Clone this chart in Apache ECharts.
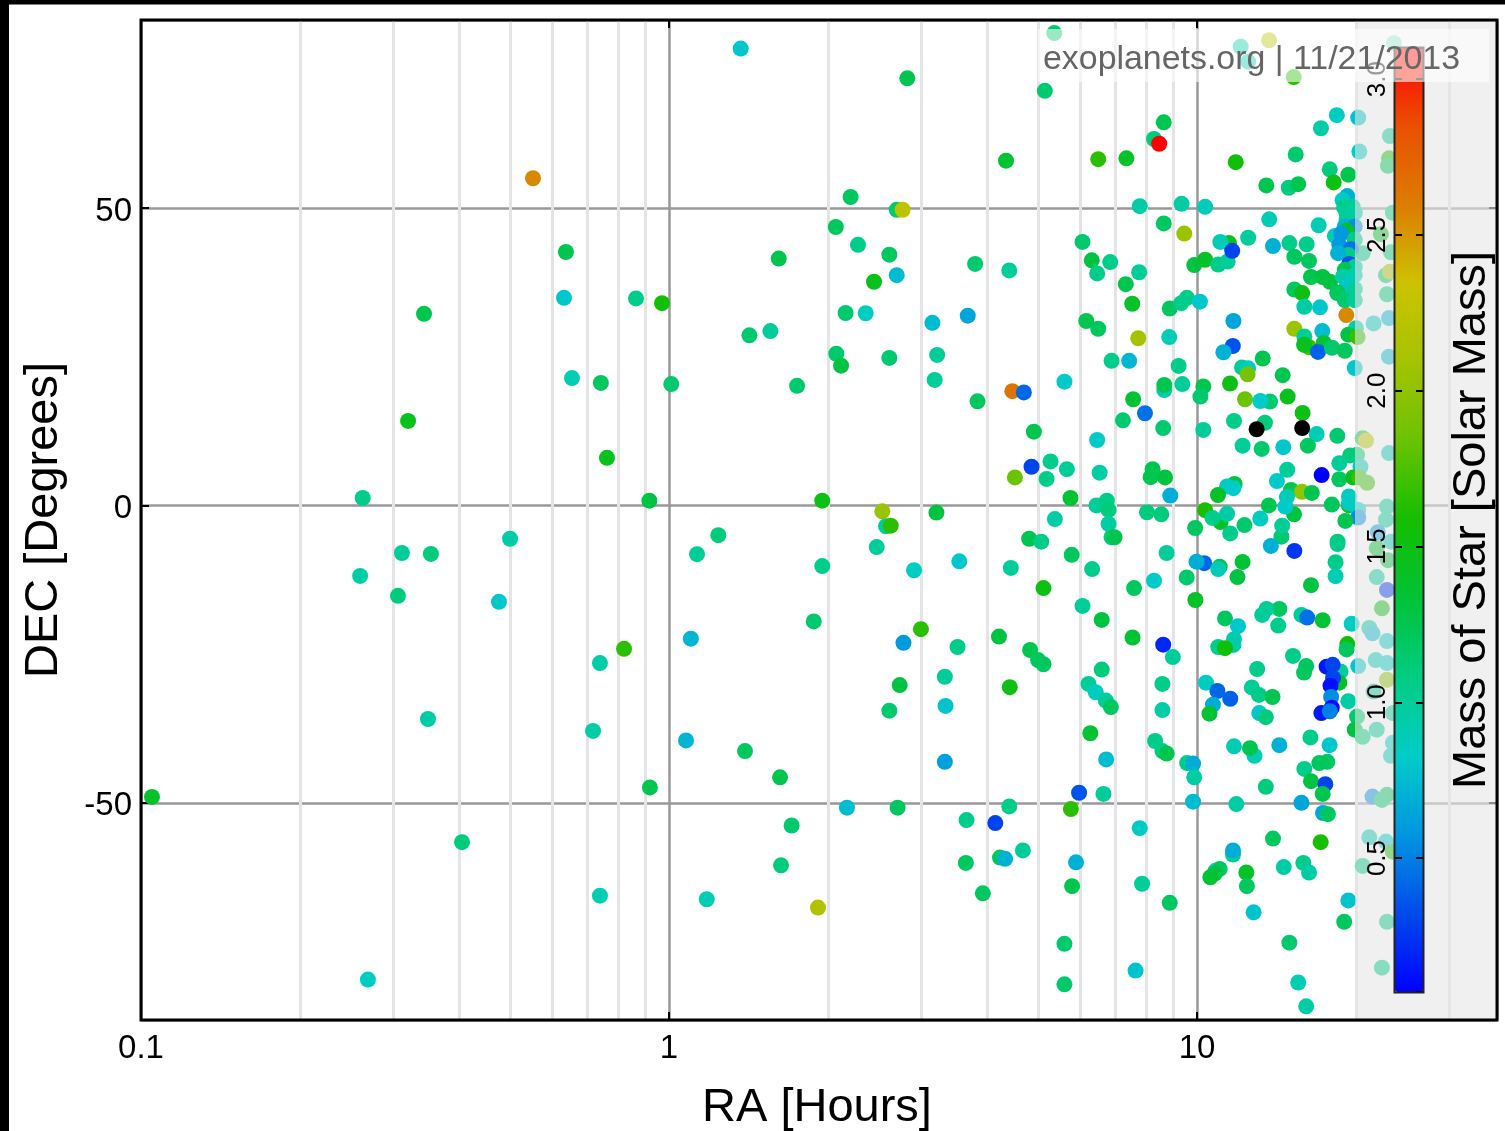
<!DOCTYPE html>
<html>
<head>
<meta charset="utf-8">
<title>Exoplanet host stars</title>
<script src="https://cdn.jsdelivr.net/npm/echarts@6/dist/echarts.min.js"></script>
<style>html,body{margin:0;padding:0;background:#fff}#chart{width:1505px;height:1131px}</style>
</head>
<body>
<div id="chart"></div>
<script>
// Each star: [RA hours, DEC degrees, stellar mass in solar masses]
const starsFarWest = [[.1049,-49,1.4],[.263,1.26,1.05],[.26,-11.85,.95],[.269,-79.7,.85],[.3067,-15.2,1.1],[.312,-8,1],[.3436,32.2,1.25],[.354,-8.15,1.1],[.3205,14.2,1.45],[.3496,-35.9,.95],[.4055,-56.6,1.1],[.4764,-16.2,.8],[.5,-5.6,.95],[.5526,55,2.55],[.6326,34.9,.8],[.638,42.6,1.25],[.655,21.4,.9],[.718,-37.9,.95],[.74,-26.5,.95],[.743,20.6,1.2],[.74,-65.6,.9],[.763,8,1.45],[.822,-24.1,1.65]];
const starsMidNorth = [[1.367,76.8,.8],[2.827,71.8,1.25],[2.208,51.85,1.2],[2.7,49.7,1.15],[2.77,49.7,2.25],[2.07,46.8,1.2],[2.28,43.8,1.05],[2.614,42.15,1.2],[1.614,41.5,1.25],[3.8,40.6,1.15],[2.7,38.7,.75],[2.445,37.6,1.45],[.866,34.8,1.05],[.97,34,1.55],[2.16,32.35,1.15],[2.358,32.3,.85],[3.154,30.7,.75],[3.68,31.9,.65],[1.42,28.6,1.15],[1.556,29.3,1],[2.074,25.5,1.15],[2.614,24.8,1.15],[3.22,25.3,1],[2.118,23.5,1.3],[4.348,57.95,1.35]];
const starsMidEquator = [[1.01,20.4,1.15],[1.748,20.1,1.15],[3.186,21.1,1],[3.84,17.5,1.2],[.918,.8,1.3],[1.951,.8,1.5],[2.535,-1,2.05],[3.21,-1.2,1.3],[2.576,-3.5,1],[2.63,-3.4,1.65],[1.24,-5,1.1],[1.13,-8.2,1],[2.474,-7,1],[1.951,-10.2,1.05],[2.911,-10.9,.85],[3.547,-9.4,.8],[1.88,-19.5,1.15],[3,-20.8,1.65],[1.1,-22.4,.72],[2.78,-23.1,.6],[3.52,-23.8,1.05],[2.735,-30.2,1.3],[3.33,-28.8,1],[4.217,-22.05,1.3]];
const starsMidSouth = [[3.34,-33.7,.78],[2.614,-34.5,1.15],[1.077,-39.5,.72],[1.393,-41.3,1.2],[1.623,-45.7,1.25],[3.33,-43.1,.62],[.92,-47.4,1.25],[2.173,-50.8,.75],[2.71,-50.8,1.2],[1.707,-53.8,1.15],[3.66,-52.9,1.05],[4.15,-53.4,.3],[3.65,-60.1,1.2],[1.63,-60.5,1.1],[3.93,-65.2,1.2],[4.236,-59.2,1.2],[4.33,-59.4,.7],[1.179,-66.2,.9],[1.915,-67.6,2.15]];
const starsEastFarNorth = [[5.367,79.4,1.15],[12.1,77.1,.95],[12.5,74.6,.9],[13.69,78.2,2.2],[15.25,72,1.65],[23.6,77.7,1.05],[5.15,69.7,1.15],[8.65,64.4,1.25],[8.29,61.6,1.1],[8.48,60.8,3.1],[6.5,58.2,1.65],[7.35,58.35,1.4],[11.84,57.7,1.55],[18.4,65.6,.85],[17.17,63.4,.95],[20.2,65.2,.78],[20.3,59.5,.85],[23.2,62.1,1],[15.38,59,1.15],[17.84,56.5,1.1],[19.35,55.6,1.25],[18.15,54.3,1.5],[23.1,58.35,1.6],[23,57.1,1.2],[13.53,53.8,1.25],[14.92,53.4,1.1],[15.55,54,1.25],[7.79,50.3,.95],[9.35,50.7,.95],[10.36,50.2,.88]];
const starsEastNorth = [[8.65,47.4,1.2],[9.46,45.7,2.05],[6.07,44.3,1.15],[11.5,44.1,1.45],[11.07,44.3,.9],[12.5,45,1],[13.7,48.1,.9],[17,47.1,.9],[13.93,43.6,.7],[14.96,44.1,1.05],[16.13,43.9,1.05],[15.29,41.8,1.2],[16.3,41.1,1.2],[6.32,41.2,1.3],[6.85,40.9,1.05],[6.47,39,1.05],[7.77,39.2,1],[7.33,37.2,1.25],[4.41,39.5,1],[9.88,40.4,1.3],[10.36,41.3,1.4],[10.97,40.5,1.05],[11.43,41,1],[11.66,42.8,.3],[7.54,33.9,1.4],[8.88,33.1,1.2],[9.33,34,1.05],[9.57,34.9,1.05],[10.13,34.25,.8],[16.44,38.4,1.25]];
const starsEastMidNorth = [[17.3,38.4,1.3],[17.86,37.6,1.3],[18.44,35.7,1.3],[15.29,36.3,1.2],[15.82,35.7,1.5],[15.97,33.4,.95],[17.1,33.3,.8],[11.72,31,.65],[19.18,32,2.55],[20,29.8,.95],[21.6,30.6,.85],[23.1,31.5,.75],[22.9,35.5,1.1],[22.8,38.7,1.15],[23.2,39.3,2.1],[23.3,42.55,1.1],[22.3,45.6,1.4],[23.5,49.2,1.1],[20.6,42.4,1.05],[15.29,29.7,2.05],[17.27,29.3,.75],[15.97,28.4,1],[7.74,28.1,2.1],[8.86,28.3,.9],[6.17,31,1.25],[6.5,29.7,1.2],[17.38,27.3,1.35],[19.35,28.7,1.3],[20.15,28.3,1.7]];
const starsDenseCluster = [[19.26,52,.7],[18.87,51.3,.85],[19,50.1,1.05],[19.72,50.2,1],[19.2,49.1,1],[19.9,49.2,.95],[19.2,48,1],[19.05,46.9,.7],[19.9,46.9,.55],[18.25,45.3,.9],[19.2,46.2,1.4],[18.75,45.7,.6],[19.9,44.7,1.05],[18.6,43.8,.6],[19.57,43.05,.45],[19.35,42.1,1.05],[18.5,42.4,.7],[19.43,40.6,.35],[19.9,40.1,.95],[19.05,39.6,1.25],[18.9,38.5,.95],[19.9,38.7,.9],[19.2,36.7,.8],[19.9,36.4,1],[18.46,35.8,1.2],[19.05,34.5,1.15],[19.9,34.5,1],[16.3,26.6,1.7],[15.95,27,1.45],[16.95,25.8,.4],[18.02,26.5,1.15],[19.05,26,1.2],[19.9,23.1,.8],[23.1,25,.75]];
const starsEastLowNorth = [[11.69,26.8,.35],[11.22,25.75,.7],[13.32,24.7,1.25],[6.89,24.3,1.05],[7.44,24.3,.72],[9.23,23.45,1.05],[12.17,23.2,1],[12.5,23.05,.85],[12.47,22.05,1.9],[14.53,21.9,1.25],[11.55,20.5,1.5],[5.61,20.8,.82],[4.47,19.2,2.65],[4.7,19,.42],[8.67,19.4,.95],[8.67,20.25,1.25],[9.38,20.4,1],[10.28,20,1.25],[10.15,18.3,1.15],[7.57,17.85,1.35],[12.33,17.85,1.85],[13.75,17.45,1.15],[13.18,17.55,.82],[14.85,18.3,1.45],[15.85,15.55,1.5],[7.97,15.5,.45],[7.24,14.3,1.15],[4.91,12.4,1.25],[8.63,13,1.15],[10.28,12.7,1],[11.75,14.2,1.05],[13.45,13.9,1.1],[16.85,12,.9],[18.44,11.7,1.15],[6.47,11,.82],[12.2,10.05,1],[13.26,9.5,1.15],[14.57,9.8,.8],[16.22,10.05,1.2],[20.6,11.3,1.3],[20.9,10.9,2.25],[23.1,8.8,.9]];
const starsEastEquator = [[19.5,8.4,1.1],[20.1,8.5,1.1],[18.6,7.1,1],[20.4,6.5,.9],[5.28,7.4,1.05],[5.67,6.1,1],[4.86,6.5,.3],[5.19,4.45,1.05],[4.52,4.7,1.85],[6.54,5.5,.95],[8.24,6.1,1.25],[8.17,4.75,1.25],[8.7,4.7,1.3],[5.76,1.25,1.35],[8.9,1.65,.68],[17.22,5.1,.07],[14.82,6,1],[14.17,4.1,.82],[18.6,4.4,1.2],[19.75,4.7,1.45],[20.3,4.7,1.7],[21,3.8,1.7],[11.78,3.6,1.3],[11.4,3.2,.85],[11.72,2.9,.82],[10.96,1.75,1.4],[15.07,2.6,1.25],[15.8,2.3,2],[16.5,2.1,1.25],[19.4,0,1.5],[19.4,1.5,.85],[19.4,.4,.85],[18,.15,1.2],[13.68,0,1.25],[15.27,-1.5,1.3],[14.8,1.4,.9],[14.7,-.2,.82],[6.45,0,1],[6.75,.8,1.05],[6.8,-.75,1.1],[8.04,-1.15,1.1],[8.56,-1.5,1.1],[10.36,-.8,1.6],[11.08,-2.8,1.4],[10.7,-2.1,1.05],[11.4,-1.4,.95],[12.3,-3.3,1.15],[13.18,-2.2,.85]];
const starsEastLowSouth = [[20.2,-.75,.85],[20.2,-2.05,.55],[22.9,-.2,1],[22.8,-2.4,1],[19.1,-2.6,1.25],[5.38,-2.3,.95],[9.92,-3.8,1.2],[11.56,-4.7,1.05],[14.45,-5.25,1.15],[14.5,-3.4,1],[4.81,-5.6,1.25],[5.07,-6.1,1.05],[6.8,-3.1,.95],[6.89,-5.35,1.1],[6.98,-5.35,1.25],[18.46,-6.1,1.1],[18.46,-6.5,1.05],[22,-4.5,.6],[23.3,-6.1,.9],[21.9,-7.2,1.35],[23,-9.2,1.3],[5.79,-8.3,1.2],[8.76,-8,1],[4.44,-10.5,1],[6.33,-10.7,1.05],[18.3,-9.55,1.05],[18.3,-11.9,.9],[10.32,-9.7,.42],[9.98,-9.45,.68],[11.04,-10.3,1.25],[10.97,-10.7,.9],[12.2,-9.5,1.35],[11.93,-12.05,1.3],[9.56,-12.1,1.15],[8.29,-12.65,.82],[7.6,-13.9,1.2],[5.12,-13.9,1.5],[6.07,-16.9,1],[9.93,-15.9,1.4],[16.44,-13.4,1.3],[21.9,-12.05,1],[22.9,-14.2,.25],[22.4,-17.3,1.5],[6.6,-19.25,1.3],[7.55,-22.2,1.35],[15.29,-7.65,.25],[13.8,-6.8,.7]];
const starsEastMidSouth = [[14.32,-17.4,1.2],[13.55,-17.4,1],[13.29,-18.4,1],[14.25,-20.2,1.05],[15.77,-18.4,1],[16.17,-18.85,.45],[17.3,-19.3,1.35],[19.63,-19.9,.85],[11.3,-19,1.2],[11.96,-20.3,.8],[11.75,-22.5,.9],[10.97,-23.8,1.05],[11.72,-23.45,.95],[11.3,-24,1.55],[8.63,-23.4,.2],[9,-25.5,1],[4.83,-24.3,1.25],[5,-26,1.2],[5.12,-26.7,1.2],[6.6,-27.6,1.1],[19.26,-23.3,1.55],[19.2,-24.2,1.2],[21.2,-20.6,1],[21.5,-21.5,.75],[22.9,-22.8,.85],[21.8,-26,.9],[22.9,-26.5,.85],[20.2,-27,.8],[15.2,-25.3,1.05],[16.1,-27,1.2],[15.95,-28.1,1.2],[13,-27.5,1.05],[22.9,-29.3,2],[18.7,-27.9,1],[18.6,-29.8,1.4],[17.6,-27.1,.15],[18.07,-26.8,.3],[18.1,-29,.3],[17.9,-30.3,.12],[17.95,-32.2,.55],[19.35,-32.9,.95],[17.2,-34.9,.15],[18,-34,.1],[17.85,-34.6,.5],[21.6,-31.3,1],[20.1,-35.5,1.15],[19.9,-37.7,1.3],[20.6,-38.9,1.1],[21.9,-37.7,1],[16.4,-39,1.05]];
const starsEastSouth = [[4.42,-30.55,1.5],[6.23,-30,1],[6.43,-31.4,.85],[6.72,-32.8,1],[6.87,-33.9,1.2],[8.6,-30,1.05],[8.6,-34.4,.95],[10.4,-29.8,.85],[10.93,-31.2,.42],[11.56,-32.5,.4],[10.72,-33.5,.68],[10.56,-35,1.35],[12.7,-30.6,1],[13.1,-31.85,1.05],[13.9,-32.2,1.25],[13.12,-34.9,.8],[13.5,-35.6,1.1],[6.28,-38.3,1.35],[8.33,-39.6,1.05],[8.6,-41.3,1.05],[8.76,-41.7,1.25],[6.73,-42.7,.75],[11.75,-40.5,.9],[12.85,-42.1,.9],[12.6,-40.8,1.25],[14.32,-40.3,.7],[17.83,-40.3,.8],[23.5,-34.9,1],[23.5,-39.9,.85],[23.3,-42.1,.9],[17.05,-43.3,1.2],[17.65,-43.1,1.2],[15.97,-44.3,1.05],[16.44,-46.35,1.3],[17.5,-46.85,.3],[17.3,-48.5,1.25],[21.5,-48.95,.55],[22.9,-48.65,1.2],[22.4,-49.5,1.15],[13.5,-47.3,1.1]];
const starsEastFarSouth = [[9.58,-43.3,1.05],[9.83,-43.4,.68],[9.88,-45.7,.95],[9.83,-49.8,.75],[11.87,-50.2,.95],[15.77,-50,.65],[17.33,-51.7,.65],[17.7,-51.9,1.2],[4.41,-50.6,1.05],[5.77,-51.05,1.65],[5.98,-48.3,.35],[6.65,-48.5,1],[7.79,-54.25,.85],[13.93,-56,1.2],[17.15,-56.6,1.6],[4.68,-58,1],[5.9,-60,.7],[21.2,-55.8,.9],[22.8,-56.5,.85],[20.6,-60.6,1.05],[23.5,-58.2,1.6],[11.7,-58.7,1],[11.7,-58,.68],[15.9,-60.1,1.05],[16.3,-61.7,.95],[14.6,-60.8,.95],[12.4,-61.7,1.4],[12.43,-64,1.2],[10.85,-61.4,.9],[11.04,-61.1,1.2],[10.8,-61.9,1.3],[10.6,-62.5,1.35],[5.8,-64,1.25],[7.87,-63.6,1],[8.88,-66.8,1.2],[12.8,-68.4,.78],[19.35,-66.4,.78],[19,-70,1.2],[22.9,-70,1.05],[14.96,-73.5,1.15],[5.61,-73.7,1.15],[5.61,-80.5,1.15],[7.65,-78.2,.78],[22.4,-77.7,1.05],[15.55,-80.2,.9],[16.1,-84.2,.95]];
// Stars drawn black: no mass available
const starsNoMass = [[12.97,12.8],[15.82,13]];

const xMajorTicks = [0.1, 1, 10];
const xMinorGrid = [0.2,0.3,0.4,0.5,0.6,0.7,0.8,0.9,2,3,4,5,6,7,8,9,20,30];
const yMajorTicks = [-50, 0, 50];
const massTicks = [0.5, 1, 1.5, 2, 2.5, 3];
const raRange = [0.1, 37];
const decRange = [-86.5, 81.6];
const massRange = [0.07, 3.1];
const massColors = ['#0000ff','#004beb','#0096e1','#00cdc8','#00cd82','#00c337','#14be00','#69c300','#a5c300','#cdc300','#dc7d00','#eb5000','#ff0000'];

const allStars = [].concat(starsFarWest, starsMidNorth, starsMidEquator, starsMidSouth, starsEastFarNorth, starsEastNorth, starsEastMidNorth, starsDenseCluster, starsEastLowNorth, starsEastEquator, starsEastLowSouth, starsEastMidSouth, starsEastSouth, starsEastFarSouth);

const FONT = '"Liberation Sans", Helvetica, Arial, sans-serif';
const chart = echarts.init(document.getElementById('chart'), null, {renderer:'canvas'});
const keepMajor = (list) => (v) => list.some(t => Math.abs(t - v) < 1e-6) ? String(v) : '';
const blackTick = (len) => ({show:true,inside:true,length:len,lineStyle:{color:'#000',width:2}});
const noLine = {show:false,onZero:false};

chart.setOption({
  animation:false,
  backgroundColor:'#fff',
  textStyle:{fontFamily:FONT},
  grid:[
    {left:141,top:20,width:1356,height:1000,show:false,outerBoundsMode:'none',containLabel:false},
    {left:1395,top:48,width:28,height:944,show:false,outerBoundsMode:'none',containLabel:false}
  ],
  xAxis:[
    {type:'log',gridIndex:0,min:raRange[0],max:raRange[1],logBase:10,position:'bottom',
     name:'RA [Hours]',nameLocation:'middle',nameGap:65,nameTextStyle:{fontSize:47,color:'#000',fontFamily:FONT,padding:[0,4,0,0]},
     axisLine:noLine,axisTick:blackTick(8),
     axisLabel:{fontSize:33,color:'#000',margin:12,fontFamily:FONT,formatter:keepMajor(xMajorTicks),hideOverlap:false,showMinLabel:true,showMaxLabel:false},
     splitLine:{show:true,lineStyle:{color:'#999',width:2.5}},minorTick:{show:false},minorSplitLine:{show:false}},
    {type:'log',gridIndex:0,min:raRange[0],max:raRange[1],logBase:10,position:'top',
     axisLine:noLine,axisTick:blackTick(8),axisLabel:{show:false},splitLine:{show:false}},
    {type:'value',gridIndex:1,min:0,max:1,show:false}
  ],
  yAxis:[
    {type:'value',gridIndex:0,min:decRange[0],max:decRange[1],splitNumber:4,position:'left',
     name:'DEC [Degrees]',nameLocation:'middle',nameGap:73,nameTextStyle:{fontSize:47,color:'#000',fontFamily:FONT},
     axisLine:noLine,axisTick:blackTick(8),
     axisLabel:{fontSize:33,color:'#000',margin:9,fontFamily:FONT,verticalAlign:'top',lineHeight:7,formatter:keepMajor(yMajorTicks),showMinLabel:false,showMaxLabel:false},
     splitLine:{show:true,lineStyle:{color:'#999',width:2.5}}},
    {type:'value',gridIndex:0,min:decRange[0],max:decRange[1],splitNumber:4,position:'right',
     axisLine:noLine,axisTick:blackTick(8),axisLabel:{show:false},splitLine:{show:false}},
    {type:'value',gridIndex:1,min:massRange[0],max:massRange[1],splitNumber:6,position:'left',z:5,
     axisLine:noLine,axisTick:blackTick(7),
     axisLabel:{fontSize:26,color:'#000',rotate:90,margin:4,fontFamily:FONT,showMinLabel:false,showMaxLabel:false,
       formatter:(v)=>massTicks.some(t=>Math.abs(t-v)<1e-6)?v.toFixed(1):''},
     splitLine:{show:false}},
    {type:'value',gridIndex:1,min:massRange[0],max:massRange[1],splitNumber:6,position:'right',z:5,
     name:'Mass of Star [Solar Mass]',nameLocation:'middle',nameGap:26,nameRotate:90,
     nameTextStyle:{fontSize:47,color:'#000',fontFamily:FONT,verticalAlign:'top'},
     axisLine:noLine,axisTick:blackTick(7),axisLabel:{show:false},splitLine:{show:false}}
  ],
  visualMap:{type:'continuous',seriesIndex:0,dimension:2,min:massRange[0],max:massRange[1],calculable:false,
    left:1395,top:48,itemWidth:28,itemHeight:944,padding:0,text:null,showLabel:false,z:4,realtime:false,hoverLink:false,
    inRange:{color:massColors},handleStyle:{opacity:0},indicatorStyle:{opacity:0},indicatorSize:0,handleSize:0},
  series:[
    {name:'Stars',type:'scatter',xAxisIndex:0,yAxisIndex:0,z:2,symbol:'circle',symbolSize:16,data:allStars,
     itemStyle:{opacity:1},silent:true},
    {name:'Stars without mass',type:'scatter',xAxisIndex:0,yAxisIndex:0,z:2,symbol:'circle',symbolSize:16,data:starsNoMass,
     itemStyle:{color:'#000',opacity:1},silent:true},
    {name:'Minor grid',type:'scatter',xAxisIndex:0,yAxisIndex:0,z:1,data:[],silent:true,
     markLine:{z:1,silent:true,symbol:'none',animation:false,label:{show:false},
       lineStyle:{type:'solid',color:'#e4e4e4',width:3},data:xMinorGrid.map(v=>({xAxis:v}))}}
  ],
  graphic:[
    {type:'rect',z:3,silent:true,shape:{x:1355,y:21,width:141,height:998},style:{fill:'rgba(230,230,230,0.6)'}},
    {type:'rect',z:6,silent:true,shape:{x:1394.5,y:47.5,width:29,height:945},style:{fill:'none',stroke:'#222',lineWidth:2}},
    {type:'rect',z:7,silent:true,shape:{x:141,y:20,width:1356,height:1000},style:{fill:'none',stroke:'#000',lineWidth:3}},
    {type:'rect',z:10,silent:true,shape:{x:1038,y:29,width:451,height:53},style:{fill:'rgba(255,255,255,0.6)'}},
    {type:'text',z:11,silent:true,x:1043,y:43,style:{text:'exoplanets.org | 11/21/2013',fontSize:33.9,fontFamily:FONT,fill:'#666'}},
    {type:'rect',z:20,silent:true,shape:{x:0,y:0,width:1505,height:4.5},style:{fill:'#000'}},
    {type:'rect',z:20,silent:true,shape:{x:0,y:0,width:9,height:1131},style:{fill:'#000'}}
  ]
});
</script>
</body>
</html>
